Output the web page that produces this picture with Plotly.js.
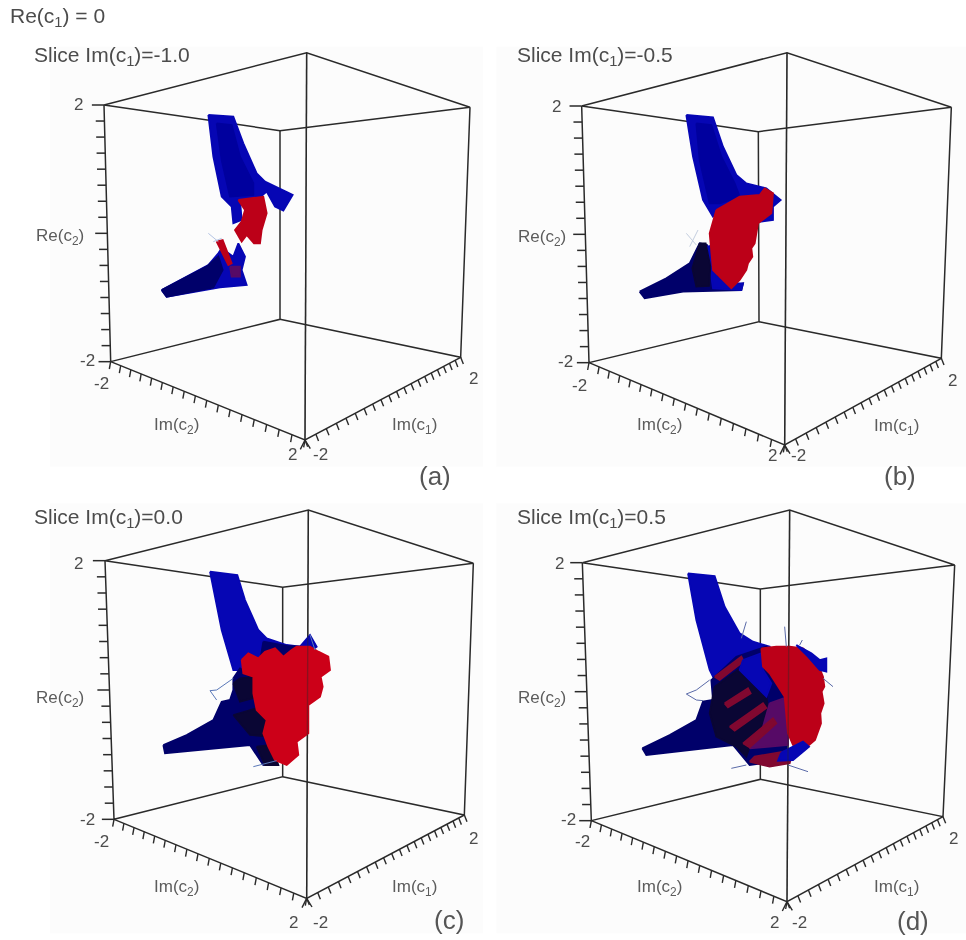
<!DOCTYPE html>
<html>
<head>
<meta charset="utf-8">
<script src="https://cdn.plot.ly/plotly-3.0.1.min.js"></script>
<style>
html,body{margin:0;padding:0;background:#fff;overflow:hidden}
#chart{width:966px;height:940px;filter:blur(0.7px)}
</style>
</head>
<body>
<div id="chart"></div>
<script>
// Values, in units of 1/3 pixel inside each panel.
const BLUE = '#0606b4', DEEP = '#00009e', NAVY = '#00006a', BLACK = '#0a0634', RED = '#bc0018', BRIGHT = '#cc0018', PURPLE = '#560a66', WINE = '#800830';

const panelTitles = ['Slice Im(c<sub>1</sub>)=-1.0', 'Slice Im(c<sub>1</sub>)=-0.5', 'Slice Im(c<sub>1</sub>)=0.0', 'Slice Im(c<sub>1</sub>)=0.5'];
const panelLetters = ['(a)', '(b)', '(c)', '(d)'];
const tickLabelsRe = ['2', '-2'];
const tickLabelsImC2 = ['-2', '2'];
const tickLabelsImC1 = ['-2', '2'];

// Box corners: TL, back top, TR, inner top, BL, BR, inner bottom, front bottom
const boxA = [[312,315],[920,158],[1410,322],[840,392],[332,1085],[1382,1072],[840,958],[915,1320]];
const boxB = [[296,318],[912,158],[1405,322],[826,395],[318,1088],[1375,1075],[828,965],[905,1335]];
const boxC = [[315,272],[925,120],[1420,280],[848,352],[342,1048],[1393,1035],[848,920],[920,1285]];
const boxD = [[298,278],[920,120],[1415,285],[832,357],[325,1052],[1380,1040],[832,928],[912,1295]];

// Label anchors: 2, -2, Im(c2) -2, Im(c2) 2, Im(c1) -2, Im(c1) 2, Re(c2), Im(c2), Im(c1), title, letter
const labelsA = [[235,312],[262,1080],[303,1150],[878,1362],[960,1362],[1420,1135],[180,710],[530,1278],[1243,1278],[97,168],[1305,1428]];
const labelsB = [[220,318],[248,1085],[288,1155],[868,1365],[945,1365],[1408,1140],[178,715],[530,1278],[1240,1280],[97,168],[1251,1428]];
const labelsC = [[235,280],[262,1048],[303,1115],[880,1358],[960,1358],[1420,1105],[180,688],[530,1255],[1243,1255],[97,143],[1348,1350]];
const labelsD = [[230,280],[255,1048],[297,1115],[875,1358],[950,1358],[1412,1105],[178,688],[530,1255],[1240,1255],[97,143],[1290,1352]];

// Panel (a)
const aUpper = [[625,345],[700,350],[730,430],[770,520],[795,545],[878,585],[850,632],[825,620],[800,575],[770,600],[720,600],[725,660],[700,670],[695,620],[665,590],[640,470]];
const aUpperCore = [[650,370],[695,375],[720,470],[760,550],[760,585],[690,590],[665,480]];
const aRed = [[715,600],[790,590],[800,640],[785,690],[780,730],[762,730],[740,705],[725,725],[705,690],[725,665],[735,630]];
const aLower = [[485,870],[560,830],[625,795],[655,760],[665,745],[700,770],[715,730],[735,770],[725,810],[740,855],[660,862],[500,890]];
const aLowerDark = [[485,870],[560,830],[620,800],[655,770],[668,810],[640,862],[500,890]];
const aSliver = [[650,725],[668,720],[695,790],[685,795]];
const aPatch = [[690,800],[720,800],[720,830],[695,830]];
const aSpikes = [[625,700],[655,725],[null,null],[640,725],[665,715]];

// Panel (b)
const bUpper = [[610,345],[690,352],[720,440],[760,525],[790,550],[850,565],[893,600],[870,620],[870,660],[830,665],[800,620],[720,630],[690,650],[660,600],[630,470]];
const bUpperCore = [[640,370],[685,375],[715,470],[755,550],[770,590],[710,610],[680,610],[650,480]];
const bLower = [[470,875],[550,835],[620,790],[650,730],[672,735],[690,810],[730,860],[780,850],[775,870],[600,875],[485,895]];
const bBlueStrip = [[672,740],[695,735],[700,830],[740,850],[780,850],[775,870],[690,865]];
const bBlack = [[650,730],[668,730],[682,800],[678,858],[640,860],[628,805]];
const bRed = [[700,630],[770,590],[830,585],[845,565],[870,580],[865,640],[825,670],[820,700],[815,730],[805,745],[808,770],[795,790],[790,810],[770,840],[745,865],[690,810],[680,700]];
const bSpikes = [[610,700],[640,735],[null,null],[620,740],[645,690]];

// Panel (c)
const cUpper = [[630,305],[712,315],[735,390],[775,480],[800,505],[860,525],[900,530],[930,495],[950,530],[900,565],[800,580],[730,600],[700,600],[665,480]];
const cUpperDark = [[790,515],[860,528],[900,530],[905,565],[780,575]];
const cBody = [[490,825],[560,795],[640,750],[665,695],[690,690],[700,660],[700,625],[720,595],[770,620],[800,760],[810,830],[830,880],[790,885],[750,825],[495,850]];
const cBlack = [[700,640],[720,625],[770,620],[775,680],[720,695]];
const cBlack2 = [[700,735],[770,715],[810,750],[815,800],[750,795]];
const cBlack3 = [[770,830],[815,825],[835,885],[795,885]];
const cRed = [[725,570],[745,550],[775,565],[795,545],[825,535],[850,560],[875,540],[890,530],[930,530],[955,545],[985,560],[990,600],[962,620],[968,650],[960,680],[925,705],[925,790],[890,815],[895,855],[860,885],[825,870],[805,830],[790,790],[800,750],[770,720],[760,670],[760,620],[730,610]];
const cSpikes = [[700,625],[650,660],[630,662],[650,690],[null,null],[930,495],[945,540],[null,null],[760,890],[830,872]];

// Panel (d)
const dUpper = [[615,310],[695,318],[725,410],[770,490],[810,515],[860,530],[840,600],[760,600],[700,640],[680,600],[640,450]];
const dBody = [[478,835],[560,795],[640,750],[660,695],[690,690],[685,630],[760,560],[850,530],[900,600],[915,700],[910,870],[800,885],[750,825],[490,855]];
const dBlack = [[695,650],[765,600],[810,640],[850,680],[860,740],[810,800],[790,860],[760,830],[700,800],[680,730]];
const dPurple = [[860,700],[915,680],[915,825],[800,835],[840,770]];
const dRedSide = [[835,535],[880,530],[920,530],[960,535],[1000,570],[1020,620],[1024,650],[1016,665],[1022,700],[1012,730],[1014,760],[1002,790],[996,810],[970,832],[930,825],[915,790],[905,680],[860,610],[840,590]];
const dBlueMid = [[780,570],[835,550],[840,600],[865,640],[850,680],[810,640],[770,600]];
const dBlueEdge = [[940,525],[985,550],[1010,570],[1030,565],[1030,605],[1010,600],[975,560]];
const dStripe1 = [[695,620],[775,560],[782,574],[710,630]];
const dStripe2 = [[725,700],[795,655],[803,670],[735,712]];
const dStripe3 = [[740,770],[840,700],[850,714],[755,782]];
const dStripe4 = [[780,820],[870,745],[880,760],[800,832]];
const dBottomRed = [[800,875],[815,860],[930,840],[920,880],[860,890]];
const dBottomBlue = [[895,848],[960,815],[978,830],[930,870],[885,872]];
const dSpikes = [[680,630],[640,660],[610,672],[640,690],[660,692],[null,null],[910,530],[905,470],[null,null],[950,525],[958,510],[null,null],[1020,625],[1050,650],[null,null],[915,885],[975,905],[null,null],[790,885],[745,895],[null,null],[775,505],[790,455]];

const panelsMarks = [
  [[aUpper,BLUE],[aUpperCore,DEEP],[aRed,RED],[aLower,BLUE],[aLowerDark,NAVY],[aSliver,RED],[aPatch,PURPLE]],
  [[bUpper,BLUE],[bUpperCore,DEEP],[bLower,NAVY],[bBlueStrip,BLUE],[bBlack,BLACK],[bRed,RED]],
  [[cUpper,BLUE],[cUpperDark,NAVY],[cBody,NAVY],[cBlack,BLACK],[cBlack2,BLACK],[cBlack3,BLACK],[cRed,BRIGHT]],
  [[dUpper,BLUE],[dBody,NAVY],[dBlack,BLACK],[dPurple,PURPLE],[dStripe1,WINE],[dStripe2,WINE],[dStripe3,WINE],[dStripe4,WINE],[dBlueMid,BLUE],[dRedSide,RED],[dBlueEdge,BLUE],[dBottomRed,WINE],[dBottomBlue,BLUE]]
];
const panelsSpikes = [aSpikes,bSpikes,cSpikes,dSpikes];
const panelsSpikeColors = ['#b4c4e4','#c4cedf','#5a78b8','#5a6aa8'];
const boxes = [boxA,boxB,boxC,boxD];
const labels = [labelsA,labelsB,labelsC,labelsD];
const axisIds = [['x','y'],['x2','y2'],['x3','y3'],['x4','y4']];

const EDGE = '#2a2a2a', TXT = '#4c4c4c', FONT = '"Liberation Sans", Arial, sans-serif';
const traces = [];
const xs = p => p.map(q => q[0]);
const ys = p => p.map(q => q[1]);
function line(points, ax, color, width){
  traces.push({type:'scatter', mode:'lines', x:xs(points), y:ys(points), xaxis:ax[0], yaxis:ax[1],
    line:{color:color, width:width}, hoverinfo:'skip', showlegend:false});
}
function poly(points, ax, color){
  const closed = points.concat([points[0]]);
  traces.push({type:'scatter', mode:'lines', x:xs(closed), y:ys(closed), xaxis:ax[0], yaxis:ax[1],
    fill:'toself', fillcolor:color, line:{color:color, width:1.8}, hoverinfo:'skip', showlegend:false});
}
function ticks(a, b, n, k, dx, dy, longEvery, longF){
  const out = [];
  for(let i=0;i<=n;i++){
    const t = i/n, p = t/(t + k*(1-t));
    const x = a[0]+(b[0]-a[0])*p, y = a[1]+(b[1]-a[1])*p;
    const f = (longEvery && i%longEvery===0) ? longF : 1;
    out.push([x,y],[x+dx*f,y+dy*f],[null,null]);
  }
  return out;
}

boxes.forEach((c,i) => {
  const ax = axisIds[i];
  const [TL,B,TR,I,BL,BR,IB,F] = c;
  const back = [TL,B,TR,I,TL,[null,null],TL,BL,IB,I,[null,null],IB,BR,TR,[null,null],BL,F,BR,[null,null],B,F];
  line(back, ax, EDGE, 1.5);
  line(ticks(TL,BL,16,1,-26,0,8,1.4), ax, EDGE, 1.5);
  line(ticks(BL,F,17,1.15,-4,22), ax, EDGE, 1.4);
  line(ticks(F,BR,20,0.7,8,20), ax, EDGE, 1.4);
  line([[F[0]-14,F[1]+28],F,[F[0]+16,F[1]+26]], ax, EDGE, 1.4);
  panelsMarks[i].forEach(m => poly(m[0], ax, m[1]));
  line(panelsSpikes[i], ax, panelsSpikeColors[i], 1);
  // front edge stays visible through the surface
  line([B,F], ax, 'rgba(40,40,40,0.4)', 1.4);
});

const annotations = [];
function note(text, pos, ax, size, anchor, color){
  annotations.push({text:text, x:pos[0], y:pos[1], xref:ax[0], yref:ax[1], showarrow:false,
    xanchor:anchor||'center', yanchor:'middle', font:{family:FONT, size:size, color:color||TXT}});
}
labels.forEach((l,i) => {
  const ax = axisIds[i];
  note(tickLabelsRe[0], l[0], ax, 17);
  note(tickLabelsRe[1], l[1], ax, 17);
  note(tickLabelsImC2[0], l[2], ax, 17);
  note(tickLabelsImC2[1], l[3], ax, 17);
  note(tickLabelsImC1[0], l[4], ax, 17);
  note(tickLabelsImC1[1], l[5], ax, 17);
  note('Re(c<sub>2</sub>)', l[6], ax, 17, 'center', '#5c5c5c');
  note('Im(c<sub>2</sub>)', l[7], ax, 17, 'center', '#5c5c5c');
  note('Im(c<sub>1</sub>)', l[8], ax, 17, 'center', '#5c5c5c');
  note(panelTitles[i], l[9], ax, 21, 'left');
  note(panelLetters[i], l[10], ax, 26, 'center', '#555');
});
note('Re(c<sub>1</sub>) = 0', [24,50], axisIds[0], 21, 'left');

const hidden = (domain, range) => ({domain:domain, range:range, visible:false, fixedrange:true, showgrid:false, zeroline:false});
const upper = [1-490/940, 1], lower = [0, 470/940];
const bgShape = (xr,yr,x0,y0,x1,y1) => ({type:'rect', xref:xr, yref:yr, x0:x0, y0:y0, x1:x1, y1:y1, layer:'below', fillcolor:'#fcfcfc', line:{width:0}});

const layout = {
  width:966, height:940, margin:{l:0,r:0,t:0,b:0}, showlegend:false,
  paper_bgcolor:'#ffffff', plot_bgcolor:'rgba(0,0,0,0)',
  xaxis: Object.assign(hidden([0,.5],[0,1449]),{anchor:'y'}),
  yaxis: Object.assign(hidden(upper,[1470,0]),{anchor:'x'}),
  xaxis2:Object.assign(hidden([.5,1],[0,1449]),{anchor:'y2'}),
  yaxis2:Object.assign(hidden(upper,[1470,0]),{anchor:'x2'}),
  xaxis3:Object.assign(hidden([0,.5],[0,1449]),{anchor:'y3'}),
  yaxis3:Object.assign(hidden(lower,[1410,0]),{anchor:'x3'}),
  xaxis4:Object.assign(hidden([.5,1],[0,1449]),{anchor:'y4'}),
  yaxis4:Object.assign(hidden(lower,[1410,0]),{anchor:'x4'}),
  annotations:annotations,
  shapes:[bgShape('x','y',150,140,1449,1400),bgShape('x2','y2',40,140,1449,1400),bgShape('x3','y3',150,100,1449,1390),bgShape('x4','y4',40,100,1449,1390)]
};
Plotly.newPlot('chart', traces, layout, {displayModeBar:false, staticPlot:true});
</script>
</body>
</html>
